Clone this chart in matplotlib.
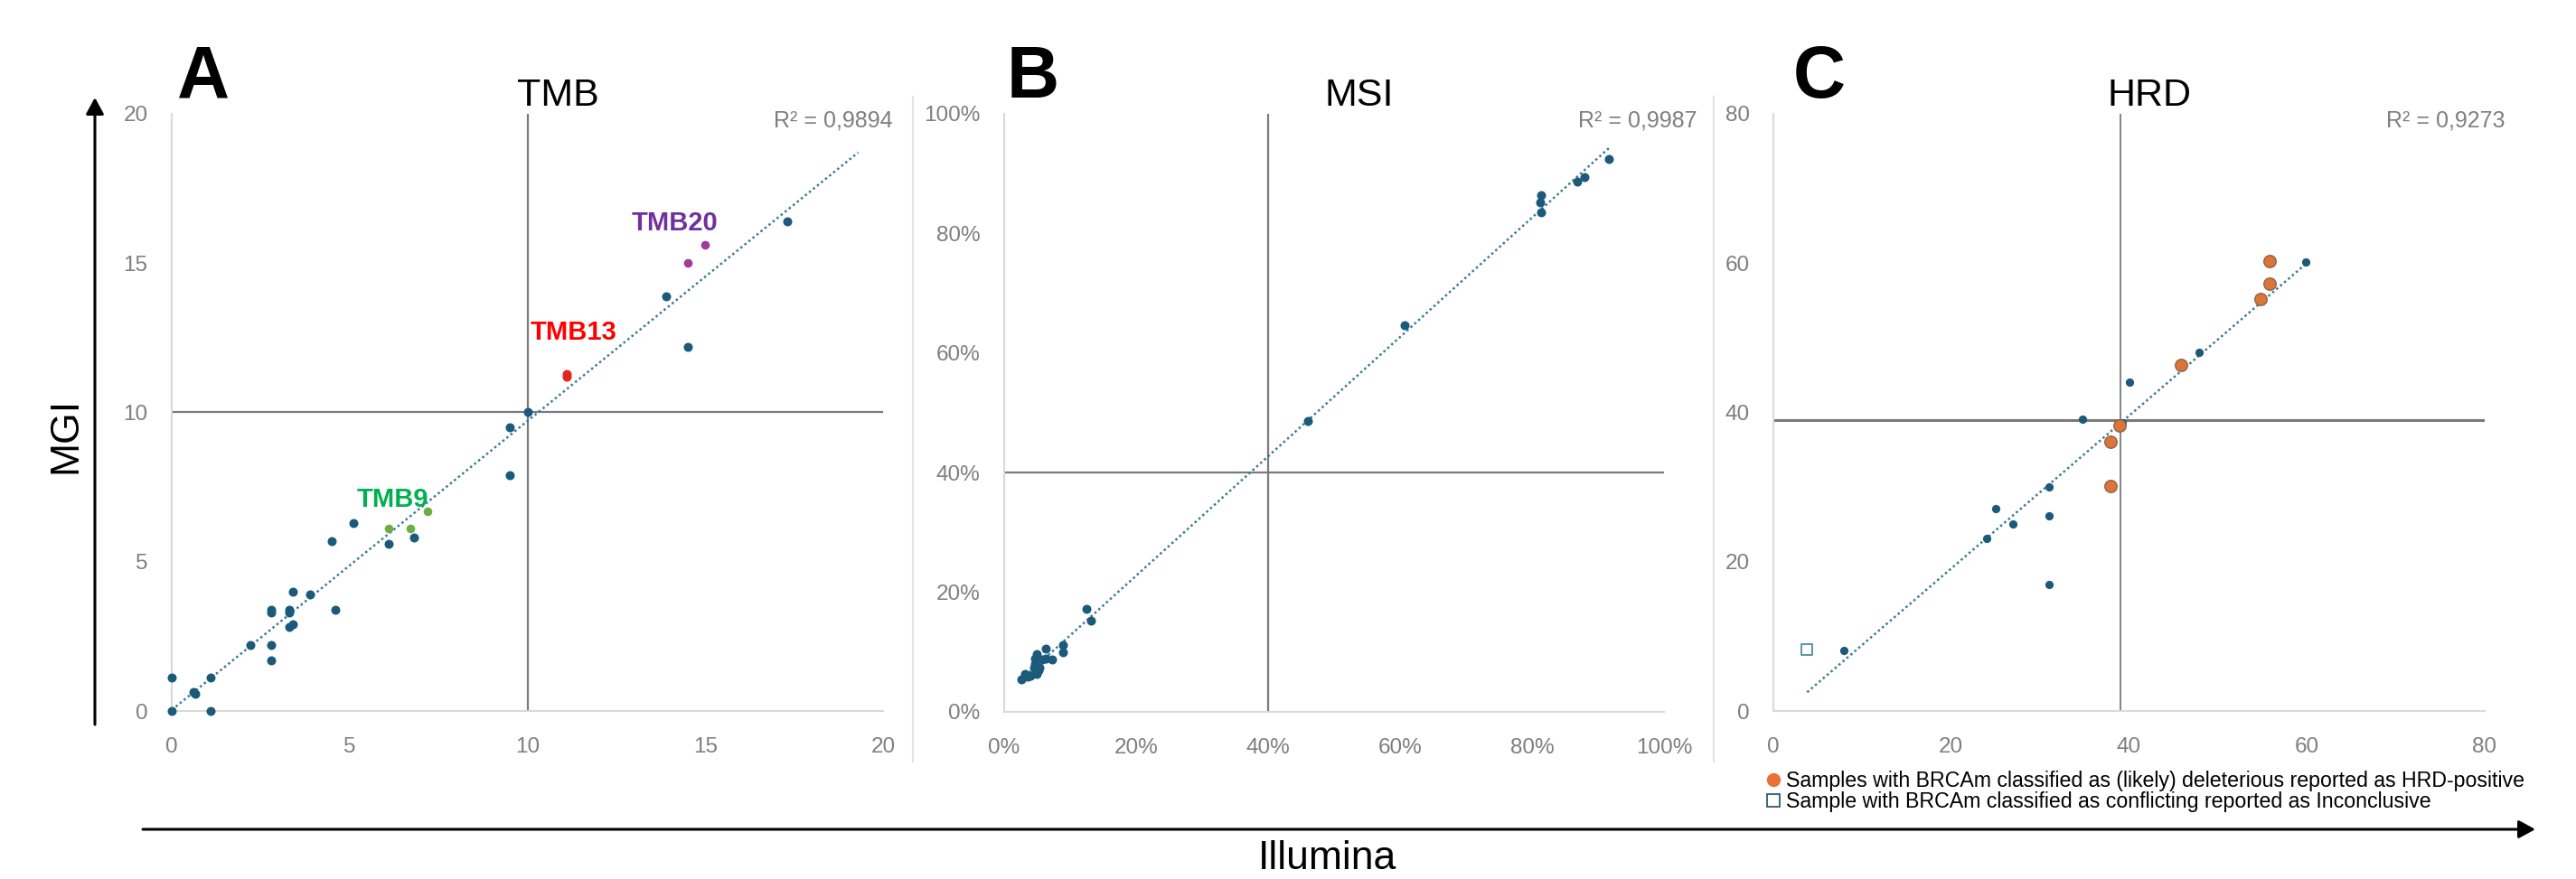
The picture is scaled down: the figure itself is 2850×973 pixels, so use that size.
import matplotlib
matplotlib.use('Agg')
import matplotlib.pyplot as plt
import numpy as np
from matplotlib.lines import Line2D
from matplotlib.patches import FancyArrowPatch
from matplotlib.ticker import PercentFormatter

plt.rcParams['font.family'] = ['Liberation Sans', 'DejaVu Sans']

# ---------- data (Illumina on x, MGI on y)

# A: TMB
tmb_ill = [0, 0, 0.6, 0.65, 1.1, 1.1, 2.2, 2.8, 2.8, 2.8, 2.8, 3.3, 3.3, 3.4,
           3.3, 3.4, 3.9, 4.6, 4.5, 5.1, 6.1, 6.8, 9.5, 9.5, 10.0, 13.9, 14.5, 17.3]
tmb_mgi = [1.13, 0, 0.64, 0.58, 1.13, 0, 2.2, 2.2, 1.7, 3.4, 3.3, 3.4, 3.3, 4.0,
           2.8, 2.9, 3.9, 3.4, 5.7, 6.3, 5.6, 5.8, 9.5, 7.9, 10.0, 13.9, 12.2, 16.4]
tmb9_ill, tmb9_mgi = [6.1, 6.7, 7.2], [6.1, 6.1, 6.7]
tmb13_ill, tmb13_mgi = [11.1, 11.1], [11.2, 11.3]
tmb20_ill, tmb20_mgi = [14.5, 15.0], [15.0, 15.6]
tmb_r2 = '0,9894'

# B: MSI (fractions)
msi_ill = [0.917, 0.868, 0.879, 0.814, 0.813, 0.814, 0.607, 0.460, 0.125, 0.132,
           0.089, 0.089, 0.063, 0.049, 0.047, 0.072, 0.063, 0.057, 0.045, 0.052,
           0.049, 0.040, 0.031, 0.026, 0.036, 0.054, 0.047]
msi_mgi = [0.924, 0.887, 0.895, 0.864, 0.852, 0.836, 0.647, 0.487, 0.172, 0.153,
           0.112, 0.100, 0.106, 0.097, 0.089, 0.087, 0.089, 0.087, 0.074, 0.069,
           0.064, 0.060, 0.064, 0.054, 0.059, 0.074, 0.080]
msi_r2 = '0,9987'

# C: HRD
hrd_ill = [7.9, 24.0, 25.0, 26.9, 31.0, 31.0, 31.0, 34.8, 39.2, 40.0, 45.9, 47.9, 59.9]
hrd_mgi = [8.1, 23.1, 27.1, 25.0, 30.0, 26.1, 16.9, 39.1, 38.6, 44.1, 46.1, 48.0, 60.2]
brca_ill = [37.9, 37.9, 38.9, 45.8, 54.8, 55.8, 55.8]
brca_mgi = [30.1, 36.1, 38.2, 46.4, 55.2, 57.3, 60.3]
incon_ill, incon_mgi = [3.8], [8.2]
hrd_r2 = '0,9273'

thresholds = [10, 0.40, 39]
trend_forward = [2.0, 0.0, 0.0]

# ---------- style
W, H = 2850, 973
BLUE = '#1b5a7a'
TREND = '#3a7a96'
GRAY_TXT = '#7f7f7f'


def fx(px):
    return px / W


def fy(py):
    return 1 - py / H


fig = plt.figure(figsize=(W / 100, H / 100), dpi=100)


def make_axes(left, right, top=126, bottom=787):
    ax = fig.add_axes([fx(left), fy(bottom), (right - left) / W, (bottom - top) / H])
    for s in ['top', 'right']:
        ax.spines[s].set_visible(False)
    for s in ['left', 'bottom']:
        ax.spines[s].set_color('#d9d9d9')
        ax.spines[s].set_linewidth(1.5)
    ax.tick_params(length=0, labelsize=17.5, labelcolor=GRAY_TXT)
    ax.tick_params(axis='x', pad=21)
    ax.tick_params(axis='y', pad=19)
    return ax


def trend(ax, xs, ys, fwd):
    xs, ys = np.asarray(xs), np.asarray(ys)
    k, b = np.polyfit(xs, ys, 1)
    tx = np.array([xs.min(), xs.max() + fwd])
    ax.plot(tx, k * tx + b, ls=(0, (1, 1.3)), color=TREND, lw=1.8, zorder=2)


def quad(ax, th, lw_h=1.6, lw_v=1.6):
    ax.axvline(th, color='#7a7a7a', lw=lw_v, zorder=1)
    ax.axhline(th, color='#7a7a7a', lw=lw_h, zorder=1)


# ---------- A: TMB
axA = make_axes(190, 977)
axA.set_xlim(0, 20)
axA.set_ylim(0, 20)
axA.set_xticks(range(0, 21, 5))
axA.set_yticks(range(0, 21, 5))
quad(axA, thresholds[0])
all_x = tmb_ill + tmb9_ill + tmb13_ill + tmb20_ill
all_y = tmb_mgi + tmb9_mgi + tmb13_mgi + tmb20_mgi
trend(axA, all_x, all_y, trend_forward[0])
axA.scatter(tmb_ill, tmb_mgi, s=52, color=BLUE, zorder=3, clip_on=False, lw=0)
axA.scatter(tmb9_ill, tmb9_mgi, s=48, color='#6cae45', zorder=3, lw=0)
axA.scatter(tmb13_ill, tmb13_mgi, s=52, color='#e3231f', zorder=3, lw=0)
axA.scatter(tmb20_ill, tmb20_mgi, s=48, color='#a3389d', zorder=3, lw=0)
axA.text(6.2, 6.85, 'TMB9', color='#00b050', fontsize=21, fontweight='bold',
         ha='center', va='baseline')
axA.text(11.3, 12.45, 'TMB13', color='#ff0000', fontsize=21, fontweight='bold',
         ha='center', va='baseline')
axA.text(14.15, 16.1, 'TMB20', color='#7030a0', fontsize=21, fontweight='bold',
         ha='center', va='baseline')

# ---------- B: MSI
axB = make_axes(1111, 1841, bottom=788)
axB.set_xlim(0, 1)
axB.set_ylim(0, 1)
axB.set_xticks(np.arange(0, 1.01, 0.2))
axB.set_yticks(np.arange(0, 1.01, 0.2))
axB.xaxis.set_major_formatter(PercentFormatter(1.0, decimals=0))
axB.yaxis.set_major_formatter(PercentFormatter(1.0, decimals=0))
quad(axB, thresholds[1])
trend(axB, msi_ill, msi_mgi, trend_forward[1])
axB.scatter(msi_ill, msi_mgi, s=52, color=BLUE, zorder=3, lw=0)

# ---------- C: HRD
axC = make_axes(1962, 2749)
axC.set_xlim(0, 80)
axC.set_ylim(0, 80)
axC.set_xticks(range(0, 81, 20))
axC.set_yticks(range(0, 81, 20))
quad(axC, thresholds[2], lw_h=2.2, lw_v=1.3)
trend(axC, hrd_ill + brca_ill + incon_ill, hrd_mgi + brca_mgi + incon_mgi, trend_forward[2])
axC.scatter(hrd_ill, hrd_mgi, s=44, color=BLUE, zorder=3, lw=0)
axC.scatter(brca_ill, brca_mgi, s=95, color='#de7436', edgecolor='#8a6652', lw=1.0, zorder=4)
axC.scatter(incon_ill, incon_mgi, s=70, marker='s', facecolor='white', edgecolor='#4d8aa3',
            lw=1.3, zorder=4)

# ---------- R² labels
for ax, r2, xr in [(axA, tmb_r2, 988), (axB, msi_r2, 1877), (axC, hrd_r2, 2772)]:
    fig.text(fx(xr), fy(140), 'R² = ' + r2, color=GRAY_TXT, fontsize=18,
             ha='right', va='baseline')

# ---------- titles and panel letters
for name, cx in [('TMB', 617), ('MSI', 1504), ('HRD', 2378)]:
    fig.text(fx(cx), fy(117), name, fontsize=31, ha='center', va='baseline')
for letter, cx in [('A', 225), ('B', 1143), ('C', 2013)]:
    fig.text(fx(cx), fy(108), letter, fontsize=58, fontweight='bold',
             ha='center', va='baseline')

# separators between the pasted charts
for sx in [1010, 1896]:
    fig.add_artist(Line2D([fx(sx), fx(sx)], [fy(107), fy(843)], transform=fig.transFigure,
                          color='#e3e3e3', lw=1.5))

# ---------- big axis arrows
for p0, p1 in [((105, 802), (105, 108)), ((158, 918), (2805, 918))]:
    fig.add_artist(FancyArrowPatch((fx(p0[0]), fy(p0[1])), (fx(p1[0]), fy(p1[1])),
                                   transform=fig.transFigure,
                                   arrowstyle='-|>,head_length=0.55,head_width=0.3',
                                   mutation_scale=20, lw=2.2, color='black',
                                   shrinkA=0, shrinkB=0))
fig.text(fx(73), fy(482), 'MGI', fontsize=32, rotation=90, ha='center', va='center')
fig.text(fx(1469), fy(971), 'Illumina', fontsize=32, ha='center', va='bottom')

# ---------- legend (panel C)
handles = [Line2D([], [], ls='', marker='o', ms=10, color='#e97132', mec='#e97132'),
           Line2D([], [], ls='', marker='s', ms=9.5, mfc='white', mec='#1d4e63', mew=1.2)]
labels = ['Samples with BRCAm classified as (likely) deleterious reported as HRD-positive',
          'Sample with BRCAm classified as conflicting reported as Inconclusive']
fig.legend(handles, labels, loc='upper left', bbox_to_anchor=(fx(1953), fy(853)),
           frameon=False, fontsize=16.7, handlelength=0.8, handletextpad=0.2,
           borderpad=0, borderaxespad=0, labelspacing=0.0)

fig.savefig('out.png', dpi=100)
